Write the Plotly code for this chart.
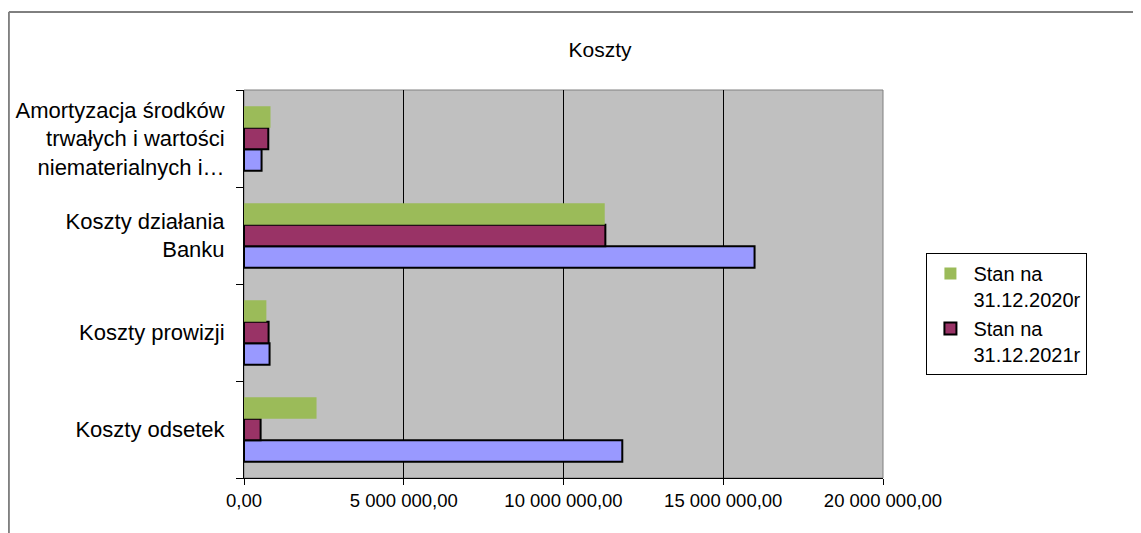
import plotly.graph_objects as go

# Data (bottom-to-top category order, as Plotly places categories)
categories = [
    "Koszty odsetek",
    "Koszty prowizji",
    "Koszty działania<br>Banku",
    "Amortyzacja środków<br>trwałych i wartości<br>niematerialnych i…",
]
series_names = ["Stan na 31.12.2022r", "Stan na<br>31.12.2021r", "Stan na<br>31.12.2020r"]
values_blue = [11_840_000, 800_000, 15_980_000, 550_000]
values_2021 = [520_000, 770_000, 11_310_000, 760_000]
values_2020 = [2_270_000, 700_000, 11_290_000, 830_000]

x_tickvals = [0, 5_000_000, 10_000_000, 15_000_000, 20_000_000]
x_ticktext = ["0,00", "5 000 000,00", "10 000 000,00", "15 000 000,00", "20 000 000,00"]

FONT = "Liberation Sans, Arial, sans-serif"

fig = go.Figure()
fig.add_trace(go.Bar(
    y=categories, x=values_blue, orientation="h", name=series_names[0],
    marker=dict(color="#9999FF", line=dict(color="black", width=2)),
    showlegend=False,
))
fig.add_trace(go.Bar(
    y=categories, x=values_2021, orientation="h", name=series_names[1],
    marker=dict(color="#993366", line=dict(color="black", width=2)),
))
fig.add_trace(go.Bar(
    y=categories, x=values_2020, orientation="h", name=series_names[2],
    marker=dict(color="#9BBB59", line=dict(width=0)),
))

# page is offset by the body margin (8px)
OFF = 8
W, H = 1141 - OFF, 533 - OFF
plot_l, plot_r, plot_t, plot_b = 243.5, 883.5, 90, 478  # page pixels
L, R, T, B = plot_l - OFF, W - (plot_r - OFF), plot_t - OFF, H - (plot_b - OFF)
pw, ph = plot_r - plot_l, plot_b - plot_t

def px_x(p):
    return (p - plot_l) / pw

def px_y(p):
    return (plot_b - p) / ph

fig.update_layout(
    width=W, height=H,
    margin=dict(l=L, r=R, t=T, b=B, autoexpand=False),
    paper_bgcolor="white",
    plot_bgcolor="#C0C0C0",
    barmode="group",
    bargap=0.335,
    bargroupgap=0,
    font=dict(family=FONT, color="black"),
    title=dict(text="Koszty", x=(600 - OFF) / W, xref="container", xanchor="center",
               y=1 - (50 - OFF) / H, yref="container", yanchor="middle",
               font=dict(size=21, family=FONT, color="black")),
    legend=dict(
        x=px_x(927), y=px_y(253), xanchor="left", yanchor="top",
        traceorder="reversed", valign="top",
        bordercolor="black", borderwidth=1, bgcolor="white",
        font=dict(size=20, family=FONT, color="black"),
        tracegroupgap=0, itemwidth=36,
    ),
    xaxis=dict(
        range=[0, 20_000_000], tickvals=x_tickvals, ticktext=x_ticktext,
        showgrid=True, gridcolor="black", gridwidth=1,
        zeroline=False, showline=True, linecolor="black", linewidth=1,
        ticks="outside", ticklen=6, tickcolor="black",
        tickfont=dict(size=18.5, family=FONT, color="black"),
    ),
    yaxis=dict(
        tickson="boundaries", ticks="outside", ticklen=7, tickcolor="black",
        showline=True, linecolor="black", linewidth=1,
        showgrid=False, zeroline=False,
        ticklabelstandoff=14,
        tickfont=dict(size=22, family=FONT, color="black"),
    ),
    shapes=[
        # plot area border
        dict(type="rect", xref="paper", yref="paper", x0=0, x1=1, y0=0, y1=1,
             line=dict(color="#808080", width=1), layer="below"),
        # outer chart border (top and left edges)
        dict(type="line", xref="paper", yref="paper", x0=px_x(8), x1=px_x(1200),
             y0=px_y(12), y1=px_y(12), line=dict(color="black", width=1)),
        dict(type="line", xref="paper", yref="paper", x0=px_x(8), x1=px_x(8),
             y0=px_y(12), y1=px_y(600), line=dict(color="#808080", width=2)),
    ],
)

fig.write_html("out.html")
